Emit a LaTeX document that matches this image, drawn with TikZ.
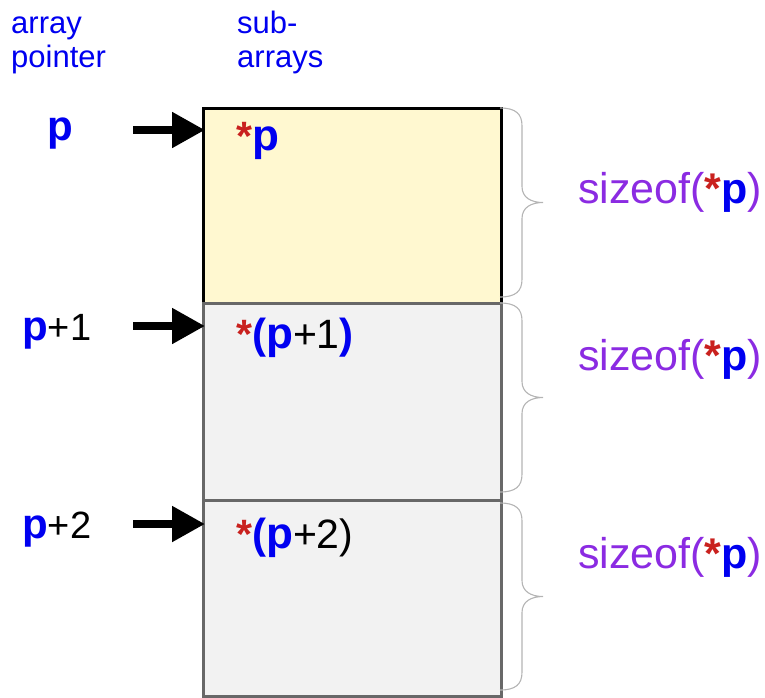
\documentclass[tikz,border=0pt]{standalone}
\usepackage{fontspec}
\setmainfont{Liberation Sans}
\usetikzlibrary{arrows.meta}
\definecolor{pblue}{HTML}{0000F0}
\definecolor{pred}{HTML}{C9211E}
\definecolor{ppurple}{HTML}{8B2BE2}
\definecolor{yfill}{HTML}{FFF8D0}
\definecolor{gfill}{HTML}{F2F2F2}
\definecolor{gborder}{HTML}{686868}
\definecolor{bracegray}{HTML}{B4B4B4}
\newcommand\fs[1]{\fontsize{#1}{#1}\selectfont}
\newcommand\bp{{\fs{42}\bfseries\color{pblue}p}}
\newcommand\bq{{\fs{44}\bfseries\color{pblue}p}}
\newcommand\rs{{\fs{41}\bfseries\color{pred}*}}
\newcommand\bpar[1]{{\fs{42}\bfseries\color{pblue}#1}}
\begin{document}
\begin{tikzpicture}[x=1pt,y=-1pt,
  txt/.style={inner sep=0pt, anchor=base west},
  head/.style={txt, text=pblue, font=\fs{31}},
  yellowbox/.style={draw=black, fill=yfill, line width=3pt, inner sep=0pt, minimum width=298pt, minimum height=195pt, anchor=north west},
  graybox/.style={draw=gborder, fill=gfill, line width=3.2pt, inner sep=0pt, minimum width=298pt, minimum height=197pt, anchor=north west},
  ptr/.style={line width=8pt, -{Triangle[length=33pt,width=34pt]}, shorten >=-3pt},
  brc/.style={draw=bracegray, line width=1.1pt}]
\useasboundingbox (0,0) rectangle (765,697);
% boxes
\node[yellowbox] (b1) at (202,107) {};
\node[graybox] (b2) at (202,302) {};
\node[graybox, minimum height=196pt] (b3) at (202,499) {};
% braces
\foreach \a/\b in {108/297, 303/492, 503/690}{
  \pgfmathsetmacro\m{(\a+\b)/2}
  \draw[brc] (500,\a) .. controls (516,\a) and (522,{\a+6}) .. (522,{\a+18})
    -- (522,{\m-16}) .. controls (522,{\m-5}) and (531,\m) .. (543,\m)
    .. controls (531,\m) and (522,{\m+5}) .. (522,{\m+16})
    -- (522,{\b-18}) .. controls (522,{\b-6}) and (516,\b) .. (500,\b);
}
% headers
\node[head] (h1) at (11,33) {array};
\node[head] (h2) at (11,67) {pointer};
\node[head] (h3) at (237,33) {sub-};
\node[head] (h4) at (237,67) {arrays};
% arrows
\coordinate (s1) at (133,130);
\coordinate (s2) at (133,326);
\coordinate (s3) at (133,524);
\draw[ptr] (s1) -- (b1.west |- s1);
\draw[ptr] (s2) -- (b2.west |- s2);
\draw[ptr] (s3) -- (b3.west |- s3);
% left labels
\node[txt] (l1) at (47,140) {\bp};
\node[txt] (l2) at (22,340) {\bp{\fs{38}+1}};
\node[txt] (l3) at (22,538) {\bp{\fs{38}+2}};
% box labels
\node[txt] (t1) at (236,150) {\rs\bq};
\node[txt] (t2) at (236,348) {\rs\bpar{(}\bq{\fs{41}+1}\bpar{)}};
\node[txt] (t3) at (236,548) {\rs\bpar{(}\bq{\fs{41}+2)}};
% sizes
\node[txt, text=ppurple, font=\fs{43}] (z1) at (578,203) {sizeof({\bfseries\color{pred}*}{\bfseries\color{pblue}p})};
\node[txt, text=ppurple, font=\fs{43}] (z2) at (578,370) {sizeof({\bfseries\color{pred}*}{\bfseries\color{pblue}p})};
\node[txt, text=ppurple, font=\fs{43}] (z3) at (578,568) {sizeof({\bfseries\color{pred}*}{\bfseries\color{pblue}p})};
\end{tikzpicture}
\end{document}
